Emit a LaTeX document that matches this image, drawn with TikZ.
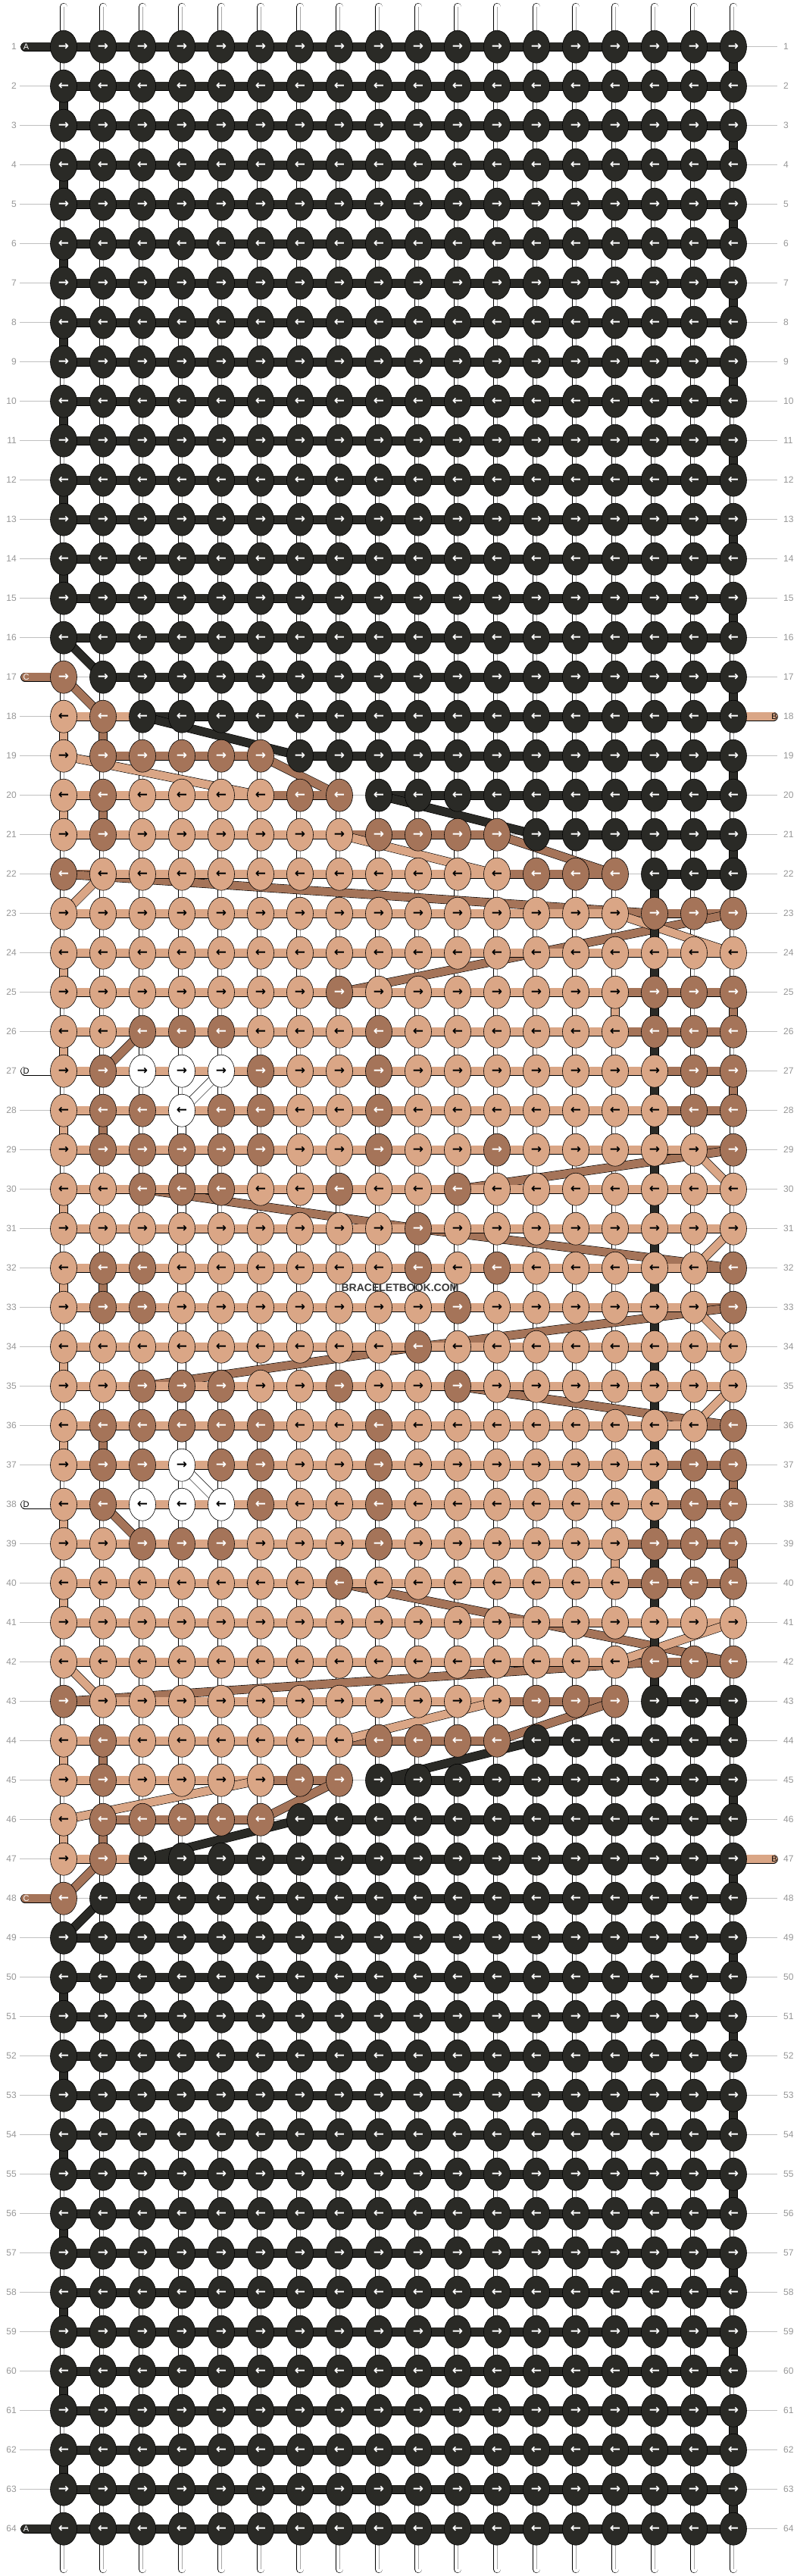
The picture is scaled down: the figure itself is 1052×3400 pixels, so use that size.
\documentclass[tikz,border=0pt]{standalone}
\usepackage{fontspec}
\setsansfont{Liberation Sans}
\newfontfamily\arrowfont{DejaVu Sans}
\usetikzlibrary{shapes.geometric}

\definecolor{dark}{RGB}{42,42,38}
\definecolor{tan}{RGB}{218,166,134}
\definecolor{brown}{RGB}{165,116,89}
\definecolor{rulegray}{RGB}{192,192,192}
\definecolor{numgray}{RGB}{150,150,150}

\pgfdeclarelayer{back}
\pgfdeclarelayer{threads}
\pgfsetlayers{back,threads,main}

\tikzset{knotstyle/.style={ellipse,draw=black,line width=0.6pt,minimum width=35pt,minimum height=43pt,inner sep=0pt,font=\arrowfont\bfseries\fontsize{17}{17}\selectfont}}
\tikzset{knota/.style={knotstyle,fill=dark,text=white},
  knotb/.style={knotstyle,fill=tan,text=black},
  knotc/.style={knotstyle,fill=brown,text=white},
  knotd/.style={knotstyle,fill=white,text=black}}
\tikzset{strand/.style={draw=black,line width=0.6pt,double distance=10.5pt,line cap=round},
  stra/.style={strand,double=dark},
  strb/.style={strand,double=tan},
  strc/.style={strand,double=brown},
  strd/.style={strand,double=white}}
\tikzset{basestr/.style={draw=black,line width=0.6pt,double=white,double distance=9pt,line cap=round},
  basemid/.style={draw=black!35,line width=0.7pt},
  rowline/.style={draw=rulegray,line width=0.8pt},
  rownum/.style={font=\sffamily\fontsize{12}{12}\selectfont,text=numgray,inner sep=0pt},
  endlabel/.style={font=\sffamily\fontsize{11}{11}\selectfont,inner sep=0pt}}

\begin{document}
\begin{tikzpicture}[x=1pt,y=-1pt]
\useasboundingbox (0,0) rectangle (1052,3400);

% plain rows
\foreach \r in {1,...,16,49,50,...,64}{
  \ifodd\r\relax\def\arr{→}\else\def\arr{←}\fi
  \foreach \c in {1,...,18}
    \node[knota] (k\r-\c) at ({32+52*\c},{9.7+52*\r}) {\arr};
}

% pattern rows
\foreach \r/\cols in {17/{c,a,a,a,a,a,a,a,a,a,a,a,a,a,a,a,a,a},
  18/{b,c,a,a,a,a,a,a,a,a,a,a,a,a,a,a,a,a},
  19/{b,c,c,c,c,c,a,a,a,a,a,a,a,a,a,a,a,a},
  20/{b,c,b,b,b,b,c,c,a,a,a,a,a,a,a,a,a,a},
  21/{b,c,b,b,b,b,b,b,c,c,c,c,a,a,a,a,a,a},
  22/{c,b,b,b,b,b,b,b,b,b,b,b,c,c,c,a,a,a},
  23/{b,b,b,b,b,b,b,b,b,b,b,b,b,b,b,c,c,c},
  24/{b,b,b,b,b,b,b,b,b,b,b,b,b,b,b,b,b,b},
  25/{b,b,b,b,b,b,b,c,b,b,b,b,b,b,b,c,c,c},
  26/{b,b,c,c,c,b,b,b,c,b,b,b,b,b,b,c,c,c},
  27/{b,c,d,d,d,c,b,b,c,b,b,b,b,b,b,b,c,c},
  28/{b,c,c,d,c,c,b,b,c,b,b,b,b,b,b,b,c,c},
  29/{b,c,c,c,c,c,b,b,c,b,b,c,b,b,b,b,b,c},
  30/{b,b,c,c,c,b,b,c,b,b,c,b,b,b,b,b,b,b},
  31/{b,b,b,b,b,b,b,b,b,c,b,b,b,b,b,b,b,b},
  32/{b,c,c,b,b,b,b,b,b,c,b,c,b,b,b,b,b,c},
  33/{b,c,c,b,b,b,b,b,b,b,c,b,b,b,b,b,b,c},
  34/{b,b,b,b,b,b,b,b,b,c,b,b,b,b,b,b,b,b},
  35/{b,b,c,c,c,b,b,c,b,b,c,b,b,b,b,b,b,b},
  36/{b,c,c,c,c,c,b,b,c,b,b,b,b,b,b,b,b,c},
  37/{b,c,c,d,c,c,b,b,c,b,b,b,b,b,b,b,c,c},
  38/{b,c,d,d,d,c,b,b,c,b,b,b,b,b,b,b,c,c},
  39/{b,b,c,c,c,b,b,b,c,b,b,b,b,b,b,c,c,c},
  40/{b,b,b,b,b,b,b,c,b,b,b,b,b,b,b,c,c,c},
  41/{b,b,b,b,b,b,b,b,b,b,b,b,b,b,b,b,b,b},
  42/{b,b,b,b,b,b,b,b,b,b,b,b,b,b,b,c,c,c},
  43/{c,b,b,b,b,b,b,b,b,b,b,b,c,c,c,a,a,a},
  44/{b,c,b,b,b,b,b,b,c,c,c,c,a,a,a,a,a,a},
  45/{b,c,b,b,b,b,c,c,a,a,a,a,a,a,a,a,a,a},
  46/{b,c,c,c,c,c,a,a,a,a,a,a,a,a,a,a,a,a},
  47/{b,c,a,a,a,a,a,a,a,a,a,a,a,a,a,a,a,a},
  48/{c,a,a,a,a,a,a,a,a,a,a,a,a,a,a,a,a,a}}{
  \ifodd\r\relax\def\arr{→}\else\def\arr{←}\fi
  \foreach \k [count=\c] in \cols
    \node[knot\k] (k\r-\c) at ({32+52*\c},{9.7+52*\r}) {\arr};
}

% loose ends
\coordinate (enda1) at ([xshift=-51pt]k1-1.center);
\coordinate (enda64) at ([xshift=-51pt]k64-1.center);
\coordinate (endc17) at ([xshift=-51pt]k17-1.center);
\coordinate (endc48) at ([xshift=-51pt]k48-1.center);
\coordinate (endd27) at ([xshift=-51pt]k27-1.center);
\coordinate (endd38) at ([xshift=-51pt]k38-1.center);
\coordinate (endb18) at ([xshift=53pt]k18-18.center);
\coordinate (endb47) at ([xshift=53pt]k47-18.center);

\node[endlabel,text=white] (laba1) at ([xshift=1.5pt]enda1) {A};
\node[endlabel,text=white] (laba64) at ([xshift=1.5pt]enda64) {A};
\node[endlabel,text=white] (labc17) at ([xshift=1.5pt]endc17) {C};
\node[endlabel,text=white] (labc48) at ([xshift=1.5pt]endc48) {C};
\node[endlabel,text=black] (labd27) at ([xshift=1.5pt]endd27) {D};
\node[endlabel,text=black] (labd38) at ([xshift=1.5pt]endd38) {D};
\node[endlabel,text=black] (labb18) at ([xshift=1pt]endb18) {B};
\node[endlabel,text=black] (labb47) at ([xshift=1pt]endb47) {B};

\node[font=\sffamily\bfseries\fontsize{14}{14}\selectfont,text=black!78,inner sep=0pt] (mark) at (528,1700) {BRACELETBOOK.COM};

\begin{pgfonlayer}{back}
\foreach \r in {1,...,64}{
  \node[rownum,anchor=east] (numl\r) at (22,{9.7+52*\r}) {\r};
  \node[rownum,anchor=west] (numr\r) at (1034,{9.7+52*\r}) {\r};
  \draw[rowline] ([xshift=4pt]numl\r.east) -- ([xshift=-8pt]numr\r.west);
}
\foreach \c in {1,...,18}{
  \coordinate (top\c) at ({32+52*\c},9);
  \coordinate (bot\c) at ({32+52*\c},3391);
  \draw[basestr] (top\c) -- (bot\c);
  \draw[basemid] (top\c) -- (bot\c);
}
\end{pgfonlayer}

\begin{pgfonlayer}{threads}
% white D
\path (endd27) edge[strd] (k27-3.center);
\foreach \p [remember=\p as \q (initially 27-3)] in {27-5,28-4,37-4,38-5,38-3}
  \path (k\q.center) edge[strd] (k\p.center);
\path (k38-3.center) edge[strd] (endd38);
% brown C
\path (endc17) edge[strc] (k17-1.center);
\foreach \p [remember=\p as \q (initially 17-1)] in {18-2,19-2,19-6,20-8,20-2,21-2,21-12,22-15,22-1,23-16,23-18,
    25-8,25-18,26-18,26-3,27-2,27-18,28-18,28-2,29-2,29-18,30-11,30-3,31-10,32-18,32-2,33-2,33-18,34-10,35-3,35-11,
    36-18,36-2,37-2,37-18,38-18,38-2,39-3,39-18,40-18,40-8,42-18,42-16,43-1,43-15,44-12,44-2,45-2,45-8,46-6,46-2,47-2,48-1}
  \path (k\q.center) edge[strc] (k\p.center);
\path (k48-1.center) edge[strc] (endc48);
% tan B
\path (endb18) edge[strb] (k18-1.center);
\foreach \p [remember=\p as \q (initially 18-1)] in {19-1,20-6,20-1,21-1,21-8,22-12,22-2,23-1,23-15,24-18,24-1,
    25-1,25-15,26-15,26-1,27-1,27-16,28-16,28-1,29-1,29-17,30-18,30-1,31-1,31-18,32-17,32-1,33-1,33-17,34-18,34-1,
    35-1,35-18,36-17,36-1,37-1,37-16,38-16,38-1,39-1,39-15,40-15,40-1,41-1,41-18,42-15,42-1,43-2,43-12,44-8,44-1,
    45-1,45-6,46-1,47-1}
  \path (k\q.center) edge[strb] (k\p.center);
\path (k47-1.center) edge[strb] (endb47);
% dark A
\path (enda1) edge[stra] (k1-1.center);
\foreach \p [remember=\p as \q (initially 1-1)] in {1-18,2-18,2-1,3-1,3-18,4-18,4-1,5-1,5-18,6-18,6-1,7-1,7-18,
    8-18,8-1,9-1,9-18,10-18,10-1,11-1,11-18,12-18,12-1,13-1,13-18,14-18,14-1,15-1,15-18,16-18,16-1,
    17-2,17-18,18-18,18-3,19-7,19-18,20-18,20-9,21-13,21-18,22-18,22-16,43-16,43-18,44-18,44-13,45-9,45-18,
    46-18,46-7,47-3,47-18,48-18,48-2,
    49-1,49-18,50-18,50-1,51-1,51-18,52-18,52-1,53-1,53-18,54-18,54-1,55-1,55-18,56-18,56-1,57-1,57-18,
    58-18,58-1,59-1,59-18,60-18,60-1,61-1,61-18,62-18,62-1,63-1,63-18,64-18,64-1}
  \path (k\q.center) edge[stra] (k\p.center);
\path (k64-1.center) edge[stra] (enda64);
\end{pgfonlayer}
\end{tikzpicture}
\end{document}
